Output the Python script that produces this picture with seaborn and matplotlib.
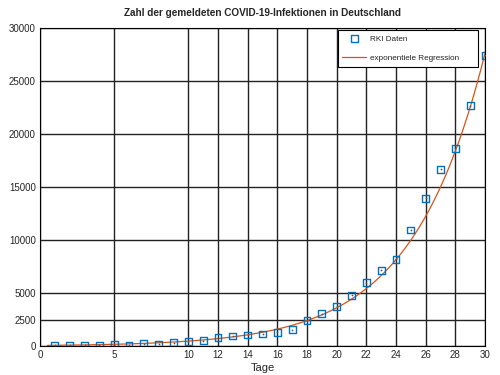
import numpy as np
import pandas as pd
import matplotlib
matplotlib.use('Agg')
import matplotlib.pyplot as plt
import seaborn as sns

# --- Daten ---
tage = list(range(1, 31))
faelle = [60, 60, 70, 90, 120, 100, 230, 200, 320, 400,
          500, 780, 950, 1050, 1150, 1300, 1550, 2400, 3050, 3750,
          4800, 6000, 7150, 8200, 10950, 13950, 16700, 18650, 22700, 27450]

# Parameter der exponentiellen Regression a*exp(b*t), aus dem Bild geschaetzt
reg_a = 62.0
reg_b = 0.2033

x_ticks = [0, 5, 10, 12, 14, 16, 18, 20, 22, 24, 26, 28, 30]
y_ticks = [0, 2500, 5000, 10000, 15000, 20000, 25000, 30000]

df = pd.DataFrame({'Tage': tage, 'Faelle': faelle})
t_fit = np.linspace(0.5, 30, 200)
df_fit = pd.DataFrame({'Tage': t_fit, 'Fit': reg_a * np.exp(reg_b * t_fit)})

sns.set_style('white')
plt.rcParams['font.family'] = ['Liberation Sans', 'DejaVu Sans']

fig = plt.figure(figsize=(5, 3.75), dpi=100)
ax = fig.add_axes([0.08, 0.077, 0.89, 0.848])

sns.lineplot(data=df_fit, x='Tage', y='Fit', ax=ax, color='#D95319',
             linewidth=0.9, label='exponentiele Regression', zorder=2)
sns.scatterplot(data=df, x='Tage', y='Faelle', ax=ax, marker='s', s=24,
                facecolor='none', edgecolor='#0072BD', linewidth=1.0,
                label='RKI Daten', zorder=3)
# kleiner Punkt in der Mitte der Marker
ax.scatter(df['Tage'], df['Faelle'], s=1.5, color='#335577', zorder=4,
           linewidths=0)

ax.set_xlim(0, 30)
ax.set_ylim(0, 30000)
ax.set_xticks(x_ticks)
ax.set_yticks(y_ticks)
ax.tick_params(labelsize=7, length=0, pad=3)
ax.grid(True, color='#222222', linewidth=1.0)
ax.set_axisbelow(True)
for s in ax.spines.values():
    s.set_color('black')
    s.set_linewidth(0.8)

ax.set_xlabel('Tage', fontsize=8, labelpad=2)
ax.set_ylabel('')
ax.set_title('Zahl der gemeldeten COVID-19-Infektionen in Deutschland',
             fontsize=7.2, fontweight='bold', pad=9)

handles, labels = ax.get_legend_handles_labels()
order = [labels.index('RKI Daten'), labels.index('exponentiele Regression')]
leg = ax.legend([handles[i] for i in order],
                ['RKI Daten', 'exponentiele Regression      '],
                loc='upper right', bbox_to_anchor=(0.984, 0.994), fontsize=5.9,
                frameon=True, fancybox=False, framealpha=1, edgecolor='black',
                borderpad=0.6, labelspacing=1.45, handlelength=2.9,
                handletextpad=0.5, borderaxespad=0)
leg.get_frame().set_linewidth(0.8)

fig.savefig('out.png', dpi=100)
